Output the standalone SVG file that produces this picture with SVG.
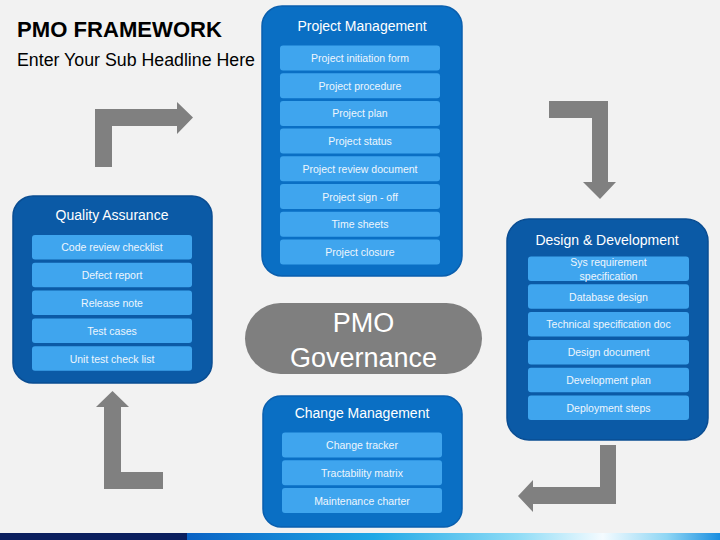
<svg xmlns="http://www.w3.org/2000/svg" width="720" height="540" viewBox="0 0 720 540">
<defs>
<linearGradient id="bar" x1="0" y1="0" x2="1" y2="0">
<stop offset="0" stop-color="#0a62c4"/>
<stop offset="0.35" stop-color="#1fa8e6"/>
<stop offset="0.62" stop-color="#8fdcf6"/>
<stop offset="0.78" stop-color="#f4fbff"/>
<stop offset="0.9" stop-color="#8fd6f4"/>
<stop offset="1" stop-color="#1a8ee0"/>
</linearGradient>
<style>
.t{font-family:"Liberation Sans",Arial,sans-serif}
.box1{fill:#0a6fc4;stroke:#0a5fae;stroke-width:1.5}
.box2{fill:#0b5aa6;stroke:#0a4d92;stroke-width:1.5}
.item{fill:#3fa5ee}
.it{font-family:"Liberation Sans",Arial,sans-serif;font-size:10.5px;fill:#eef6fd;text-anchor:middle}
.hd{font-family:"Liberation Sans",Arial,sans-serif;font-size:14px;fill:#ffffff;text-anchor:middle}
.arr{fill:#808080}
</style>
</defs>
<rect width="720" height="540" fill="#f2f2f2"/>
<rect x="0" y="533" width="188" height="7" fill="#0b1f5e"/>
<rect x="187" y="533" width="533" height="7" fill="url(#bar)"/>
<text class="t" x="17" y="37" font-size="21.5" font-weight="bold" fill="#000" textLength="205" lengthAdjust="spacingAndGlyphs">PMO FRAMEWORK</text>
<text class="t" x="17" y="66" font-size="17.5" fill="#000" textLength="238" lengthAdjust="spacingAndGlyphs">Enter Your Sub Headline Here</text>

<g id="connectors">
<path class="arr" d="M95,167 L95,109 L177,109 L177,102 L193,117.5 L177,134 L177,126 L112,126 L112,167 Z"/>
<path class="arr" d="M549,101 L608,101 L608,182 L616,182 L600,199 L583,182 L592,182 L592,118 L549,118 Z"/>
<path class="arr" d="M600,445 L616,445 L616,504 L533,504 L533,512 L518,496 L533,480 L533,487 L600,487 Z"/>
<path class="arr" d="M104,489 L104,407 L96,407 L112.5,391 L129,407 L121,407 L121,472 L163,472 L163,489 Z"/>
</g>

<g id="project-management">
<rect class="box1" x="262" y="6" width="200" height="270" rx="20"/>
<text class="hd" x="362" y="31">Project Management</text>
<rect class="item" x="280" y="45.5" width="160" height="25" rx="3"/>
<text class="it" x="360" y="62">Project initiation form</text>
<rect class="item" x="280" y="73.2" width="160" height="25" rx="3"/>
<text class="it" x="360" y="89.7">Project procedure</text>
<rect class="item" x="280" y="100.9" width="160" height="25" rx="3"/>
<text class="it" x="360" y="117.4">Project plan</text>
<rect class="item" x="280" y="128.6" width="160" height="25" rx="3"/>
<text class="it" x="360" y="145.1">Project status</text>
<rect class="item" x="280" y="156.3" width="160" height="25" rx="3"/>
<text class="it" x="360" y="172.8">Project review document</text>
<rect class="item" x="280" y="184" width="160" height="25" rx="3"/>
<text class="it" x="360" y="200.5">Project sign - off</text>
<rect class="item" x="280" y="211.7" width="160" height="25" rx="3"/>
<text class="it" x="360" y="228.2">Time sheets</text>
<rect class="item" x="280" y="239.4" width="160" height="25" rx="3"/>
<text class="it" x="360" y="255.9">Project closure</text>
</g>

<g id="quality-assurance">
<rect class="box2" x="13" y="196" width="199" height="187" rx="20"/>
<text class="hd" x="112" y="220">Quality Assurance</text>
<rect class="item" x="32" y="235" width="160" height="24.5" rx="3"/>
<text class="it" x="112" y="251.3">Code review checklist</text>
<rect class="item" x="32" y="262.8" width="160" height="24.5" rx="3"/>
<text class="it" x="112" y="279.1">Defect report</text>
<rect class="item" x="32" y="290.6" width="160" height="24.5" rx="3"/>
<text class="it" x="112" y="306.9">Release note</text>
<rect class="item" x="32" y="318.4" width="160" height="24.5" rx="3"/>
<text class="it" x="112" y="334.7">Test cases</text>
<rect class="item" x="32" y="346.2" width="160" height="24.5" rx="3"/>
<text class="it" x="112" y="362.5">Unit test check list</text>
</g>

<g id="design-development">
<rect class="box2" x="507" y="219" width="201" height="221" rx="22"/>
<text class="hd" x="607" y="245">Design &amp; Development</text>
<rect class="item" x="528" y="256.5" width="161" height="24.5" rx="3"/>
<text class="it" x="608.5" y="266">Sys requirement</text>
<text class="it" x="608.5" y="280">specification</text>
<rect class="item" x="528" y="284.3" width="161" height="24.5" rx="3"/>
<text class="it" x="608.5" y="300.6">Database design</text>
<rect class="item" x="528" y="312.1" width="161" height="24.5" rx="3"/>
<text class="it" x="608.5" y="328.4">Technical specification doc</text>
<rect class="item" x="528" y="339.9" width="161" height="24.5" rx="3"/>
<text class="it" x="608.5" y="356.2">Design document</text>
<rect class="item" x="528" y="367.7" width="161" height="24.5" rx="3"/>
<text class="it" x="608.5" y="384">Development plan</text>
<rect class="item" x="528" y="395.5" width="161" height="24.5" rx="3"/>
<text class="it" x="608.5" y="411.8">Deployment steps</text>
</g>

<g id="pmo-governance">
<rect x="245" y="303" width="237" height="71" rx="35.5" fill="#7f7f7f"/>
<text class="t" x="363.5" y="332" font-size="27" fill="#ffffff" text-anchor="middle">PMO</text>
<text class="t" x="363.5" y="367" font-size="27" fill="#ffffff" text-anchor="middle">Governance</text>
</g>

<g id="change-management">
<rect class="box1" x="263" y="396" width="199" height="131" rx="18"/>
<text class="hd" x="362" y="418">Change Management</text>
<rect class="item" x="282" y="432.5" width="160" height="25" rx="3"/>
<text class="it" x="362" y="449">Change tracker</text>
<rect class="item" x="282" y="460.3" width="160" height="25" rx="3"/>
<text class="it" x="362" y="476.8">Tractability matrix</text>
<rect class="item" x="282" y="488.1" width="160" height="25" rx="3"/>
<text class="it" x="362" y="504.6">Maintenance charter</text>
</g>
</svg>
